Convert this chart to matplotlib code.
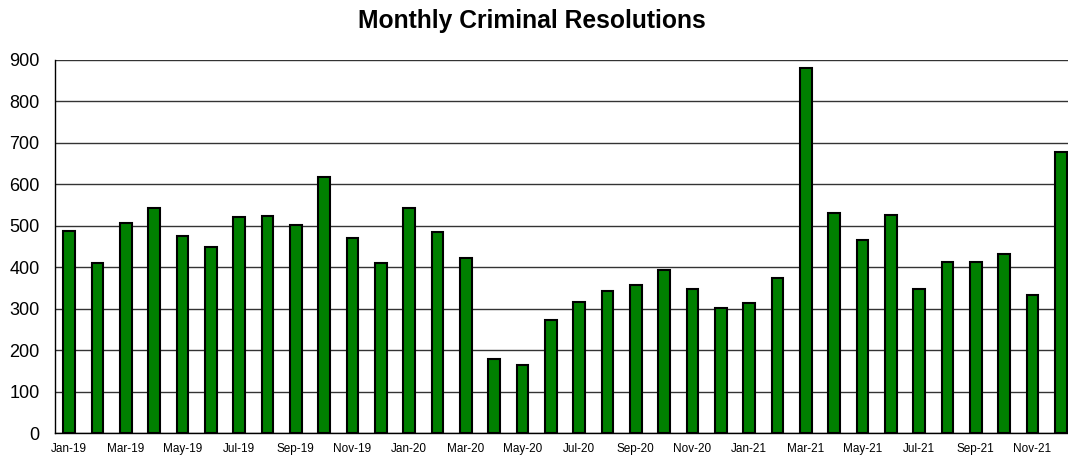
import matplotlib
matplotlib.use("Agg")
import matplotlib.pyplot as plt

months = ["Jan-19","Feb-19","Mar-19","Apr-19","May-19","Jun-19","Jul-19","Aug-19","Sep-19","Oct-19","Nov-19","Dec-19",
          "Jan-20","Feb-20","Mar-20","Apr-20","May-20","Jun-20","Jul-20","Aug-20","Sep-20","Oct-20","Nov-20","Dec-20",
          "Jan-21","Feb-21","Mar-21","Apr-21","May-21","Jun-21","Jul-21","Aug-21","Sep-21","Oct-21","Nov-21","Dec-21"]
resolutions = [488, 410, 507, 543, 475, 449, 521, 523, 502, 618, 470, 410,
               542, 485, 422, 179, 164, 273, 316, 343, 357, 393, 347, 302,
               314, 374, 881, 531, 466, 526, 348, 413, 412, 433, 333, 678]
yticks = [0, 100, 200, 300, 400, 500, 600, 700, 800, 900]

plt.rcParams['font.family'] = ['Liberation Sans', 'DejaVu Sans']
fig = plt.figure(figsize=(10.68, 4.57), dpi=100)
ax = fig.add_axes([55/1068, 1-433/457, (1075-55)/1068, (433-60)/457])

x = list(range(len(months)))
ax.bar(x, resolutions, width=0.42, color='#008000', edgecolor='black', linewidth=1.5, zorder=3)

ax.set_xlim(-0.5, len(months)-0.5)
ax.set_ylim(0, 900)
ax.set_yticks(yticks)
ax.set_yticklabels([str(v) for v in yticks], fontsize=13)
ax.set_xticks(x[::2])
ax.set_xticklabels(months[::2], fontsize=8.5)
ax.tick_params(axis='both', length=0)
ax.tick_params(axis='x', pad=7)
ax.tick_params(axis='y', pad=11)
ax.yaxis.grid(True, color='#333333', linewidth=1, zorder=0)
for s in ['top', 'right']:
    ax.spines[s].set_visible(False)
ax.spines['left'].set_color('black')
ax.spines['bottom'].set_color('black')
ax.spines['left'].set_linewidth(1)
ax.spines['bottom'].set_linewidth(1)

fig.text(532/1068, 1-21/457, "Monthly Criminal Resolutions", ha='center', va='center',
         fontsize=17.7, fontweight='bold')

fig.savefig("out.png", dpi=100)
